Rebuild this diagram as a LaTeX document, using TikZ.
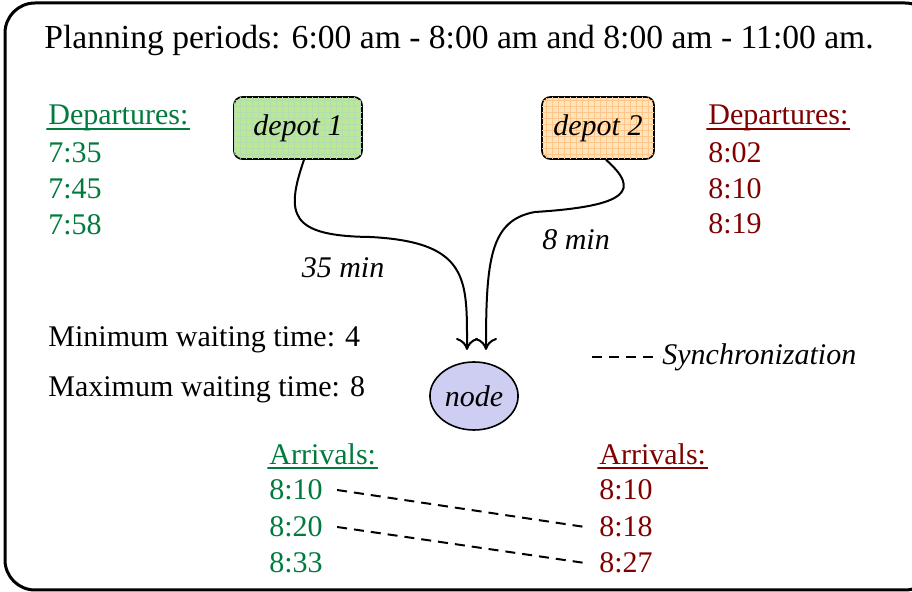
\documentclass[tikz,border=0pt]{standalone}
\usepackage{fontspec}
\setmainfont{Liberation Serif}[ItalicFont = {Liberation Serif Italic}]
\usetikzlibrary{positioning,shapes.geometric,patterns,arrows.meta}
\definecolor{depgreen}{RGB}{0,122,61}
\definecolor{depred}{RGB}{128,0,0}
\definecolor{boxgreen}{RGB}{190,232,140}
\definecolor{boxorange}{RGB}{255,228,185}
\definecolor{nodeblue}{RGB}{206,206,242}

\begin{document}
\begin{tikzpicture}[x = .5pt, y = -.5pt,
  every node/.style = {font = \fontsize{15}{18}\selectfont, inner sep = 1pt},
  itnode/.style = {font = \fontsize{15}{18}\selectfont\itshape},
  depot/.style = {draw, thick, rounded corners = 4pt, minimum width = 64pt,
    minimum height = 31pt, itnode},
  txt/.style = {anchor = west},
  head/.style = {txt, text depth = 3.3pt, path picture = {\draw [#1, line width = .9pt]
    ([yshift = 2.2pt]path picture bounding box.south west) --
    ([yshift = 2.2pt]path picture bounding box.south east);}},
  sync/.style = {line width = 1pt, dash pattern = on 5pt off 3.5pt},
  >={To[length=6pt,width=11pt]}]
  \useasboundingbox (0,0) rectangle (912,592);
  \draw [line width = 1.5pt, rounded corners = 15pt] (5,3) rectangle (935,590);

  \node (title) at (42,40) [txt, font = \fontsize{16.8}{20}\selectfont]
    {Planning periods: 6:00 am - 8:00 am and 8:00 am - 11:00 am.};

  % depots
  \node (d1) at (298,128) [depot, fill = boxgreen,
    postaction = {pattern = grid, pattern color = green!55!black!30}] {depot 1};
  \node (d2) at (598,128) [depot, minimum width = 56pt, fill = boxorange,
    postaction = {pattern = grid, pattern color = orange!45}] {depot 2};
  \node (n) at (474,396) [ellipse, draw, thick, fill = nodeblue, minimum width = 42pt,
    minimum height = 34pt, itnode] {node};
  \coordinate (in1) at (467,350);
  \coordinate (in2) at (486,350);

  % departures
  \node (dep1) at (46,118) [head = depgreen, depgreen] {Departures:};
  \node (t11) at (46,153) [txt, depgreen] {7:35};
  \node (t12) at (46,189) [txt, depgreen] {7:45};
  \node (t13) at (46,225) [txt, depgreen] {7:58};
  \node (dep2) at (706,118) [head = depred, depred] {Departures:};
  \node (t21) at (706,153) [txt, depred] {8:02};
  \node (t22) at (706,189) [txt, depred] {8:10};
  \node (t23) at (706,224) [txt, depred] {8:19};

  % travel times
  \draw [line width = 1pt, ->] ([xshift = 3pt]d1.south) .. controls (285,215) and (290,236) .. (370,237)
    .. controls (470,242) and (467,280) .. (in1);
  \draw [line width = 1pt, ->] ([xshift = 4pt]d2.south) .. controls (640,190) and (630,206) .. (535,212)
    .. controls (490,220) and (486,260) .. (in2);
  \node (m1) at (343,268) [itnode] {35 min};
  \node (m2) at (576,240) [itnode] {8 min};

  \node (wmin) at (46,340) [txt] {Minimum waiting time: 4};
  \node (wmax) at (46,390) [txt] {Maximum waiting time: 8};

  % legend
  \coordinate (l1) at (592,357);
  \node (leg) at (660,357) [txt, itnode] {Synchronization};
  \draw [sync] (l1) -- (leg.west);

  % arrivals
  \node (arr1) at (267,457) [head = depgreen, depgreen] {Arrivals:};
  \node (a11) at (267,490) [txt, depgreen] {8:10};
  \node (a12) at (267,527) [txt, depgreen] {8:20};
  \node (a13) at (267,563) [txt, depgreen] {8:33};
  \node (arr2) at (597,457) [head = depred, depred] {Arrivals:};
  \node (a21) at (597,490) [txt, depred] {8:10};
  \node (a22) at (597,527) [txt, depred] {8:18};
  \node (a23) at (597,563) [txt, depred] {8:27};
  \draw [sync] ([xshift = 6pt]a11.east) -- ([xshift = -6pt]a22.west);
  \draw [sync] ([xshift = 6pt]a12.east) -- ([xshift = -6pt]a23.west);
\end{tikzpicture}
\end{document}
